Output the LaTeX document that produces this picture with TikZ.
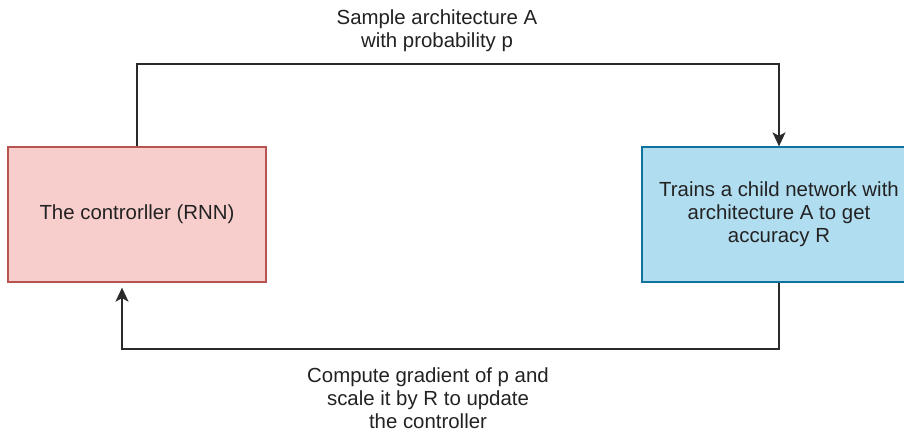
\documentclass[tikz,border=0pt]{standalone}
\usepackage{fontspec}
\setmainfont{Liberation Sans}
\usetikzlibrary{arrows.meta}
\definecolor{ctrlfill}{HTML}{F8CECC}
\definecolor{ctrlline}{HTML}{B85450}
\definecolor{netfill}{HTML}{B1DDF0}
\definecolor{netline}{HTML}{10739E}
\definecolor{ink}{HTML}{222222}
\definecolor{wire}{HTML}{2A2A2A}
\tikzset{
  box/.style={draw, line width=1.3pt, minimum width=#1, minimum height=135pt,
    align=center, inner sep=0pt, text=ink, font=\fontsize{20.4pt}{23pt}\selectfont},
  ctrlbox/.style={box=258pt, fill=ctrlfill, draw=ctrlline},
  netbox/.style={box=274pt, fill=netfill, draw=netline},
  link/.style={draw=wire, line width=1.6pt,
    -{Stealth[length=14pt, width=13pt, inset=3.5pt]}},
  caption/.style={align=center, text=ink, inner sep=0pt,
    font=\fontsize{20.4pt}{23pt}\selectfont}
}
\begin{document}
\begin{tikzpicture}[x=1pt, y=-1pt]
  \useasboundingbox (0,0) rectangle (904,435);
  \clip (0,0) rectangle (904,435);
  \fill[white] (0,0) rectangle (904,435);

  % the two stages of the loop
  \node[ctrlbox] (ctrl) at (137,214.5) {The controrller (RNN)};
  \node[netbox] (child) at (779,214.5) {Trains a child network with\\architecture A to get\\accuracy R};

  % corner points of the two connectors
  \coordinate (top) at (137,64);
  \coordinate (bottom) at (122,349);

  % sampling path, controller to child network
  \draw[link] (ctrl.north) -- (top) -| (child.north);
  % feedback path, child network back to controller
  \draw[link, shorten >=5pt] (child.south) |- (bottom) -- (bottom |- ctrl.south);

  % edge labels
  \node[caption] (samplelbl) at (437,31) {Sample architecture A\\with probability p};
  \node[caption] (updatelbl) at (428,398) {Compute gradient of p and\\scale it by R to update\\the controller};
\end{tikzpicture}
\end{document}
